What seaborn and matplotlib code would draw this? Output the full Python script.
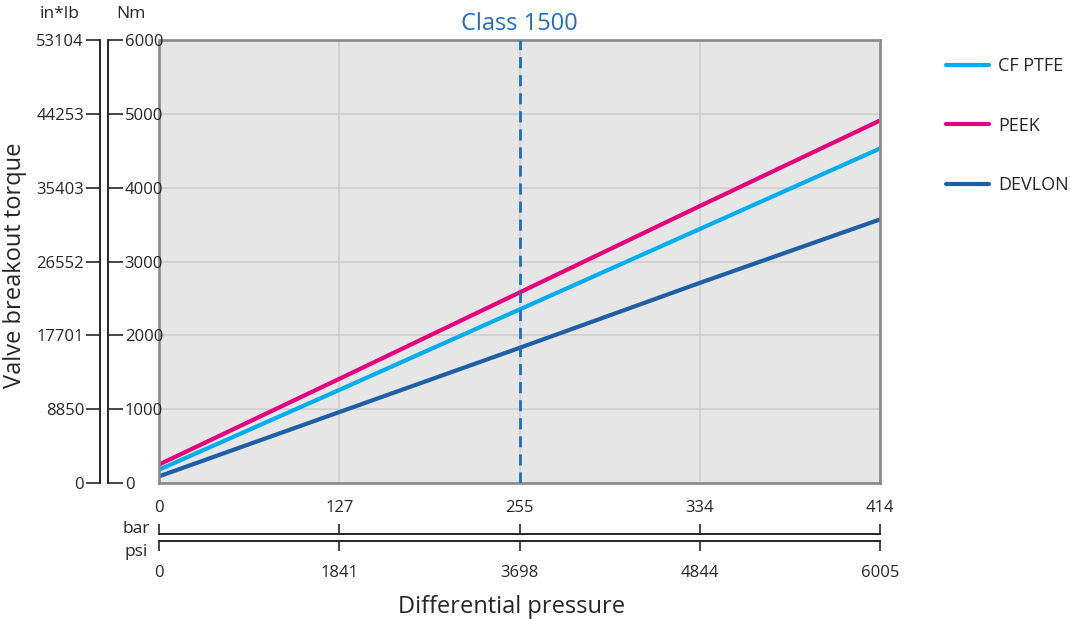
import pandas as pd
import matplotlib.pyplot as plt
import seaborn as sns

# pressure ticks (equally spaced on the chart)
bar_labels = ["0", "127", "255", "334", "414"]
psi_labels = ["0", "1841", "3698", "4844", "6005"]
tick_pos = [0, 1, 2, 3, 4]

# torque in Nm read at each pressure tick
cf_ptfe = [180, 1260, 2350, 3440, 4530]
peek = [250, 1410, 2580, 3750, 4910]
devlon = [90, 960, 1830, 2710, 3570]

nm_ticks = [0, 1000, 2000, 3000, 4000, 5000, 6000]
inlb_labels = ["0", "8850", "17701", "26552", "35403", "44253", "53104"]

materials = ["CF PTFE", "PEEK", "DEVLON"]
colors = ["#00AEEF", "#E6007E", "#1F5FA5"]
class_pos = 2  # Class 1500 -> 255 bar

df = pd.DataFrame({
    "pos": tick_pos * 3,
    "torque": cf_ptfe + peek + devlon,
    "material": [m for m in materials for _ in tick_pos],
})

sns.set_style("white")
plt.rcParams['font.family'] = ['Open Sans', 'DejaVu Sans']

W, H = 1070, 619
fig = plt.figure(figsize=(W / 100, H / 100), dpi=100)

def rect(x0, y0, x1, y1):
    return [x0 / W, 1 - y1 / H, (x1 - x0) / W, (y1 - y0) / H]

ax = fig.add_axes(rect(159, 40, 880, 483))
ax.set_facecolor("#E6E6E6")

sns.lineplot(data=df, x="pos", y="torque", hue="material", hue_order=materials,
             palette=colors, lw=3, ax=ax)

ax.axvline(class_pos, color="#1F6FC0", lw=2, ls=(0, (4, 2.5)), zorder=3)

ax.set_xlim(0, 4)
ax.set_ylim(0, 6000)
ax.set_xticks(tick_pos)
ax.set_xticklabels(bar_labels, fontsize=12)
ax.set_yticks(nm_ticks)
ax.tick_params(axis="x", length=0, pad=12)
ax.tick_params(axis="y", length=0, labelleft=False)
ax.grid(True, color="#CDCDCD", lw=1.1)
ax.set_axisbelow(True)
for s in ax.spines.values():
    s.set_color("#8A8A8A")
    s.set_linewidth(1.9)
ax.set_xlabel("")
ax.set_ylabel("")

handles, labels = ax.get_legend_handles_labels()
ax.get_legend().remove()
fig.legend(handles, labels, loc="upper left", bbox_to_anchor=(946 / W, 1 - 57 / H),
           frameon=False, fontsize=13, handlelength=2.4, handletextpad=0.5,
           labelspacing=2.3, borderpad=0, borderaxespad=0)

# torque unit axes on the left
ax_lb = fig.add_axes(rect(100, 40, 108, 483))
ax_nm = fig.add_axes(rect(100, 40, 108, 483))
for a in (ax_lb, ax_nm):
    a.set_ylim(0, 6000)
    a.set_xticks([])
    a.patch.set_visible(False)
    for s in a.spines.values():
        s.set_visible(False)
ax_lb.spines["left"].set_visible(True)
ax_lb.spines["left"].set_linewidth(1.4)
ax_lb.set_yticks(nm_ticks)
ax_lb.set_yticklabels(inlb_labels)
ax_lb.tick_params(axis="y", left=True, right=False, labelleft=True, labelright=False,
                  direction="out", length=10, width=1.2, pad=1.5, labelsize=12)

ax_nm.spines["right"].set_visible(True)
ax_nm.spines["right"].set_linewidth(1.4)
ax_nm.yaxis.tick_right()
ax_nm.set_yticks(nm_ticks)
ax_nm.set_yticklabels([str(v) for v in nm_ticks])
ax_nm.tick_params(axis="y", direction="out", length=10.5, width=1.2, pad=1.5, labelsize=12)

# pressure unit axes below
ax_p = fig.add_axes(rect(159, 534, 880, 541))
ax_p.set_xlim(0, 4)
ax_p.set_yticks([])
ax_p.patch.set_visible(False)
for side in ("left", "right"):
    ax_p.spines[side].set_visible(False)
for side in ("top", "bottom"):
    ax_p.spines[side].set_linewidth(1.4)
ax_p.set_xticks(tick_pos)
ax_p.set_xticklabels(psi_labels)
ax_p.tick_params(axis="x", top=True, bottom=True, labeltop=False, direction="out",
                 length=7.5, width=1.2, pad=10, labelsize=12)

fig.text(150 / W, 1 - 529 / H, "bar", ha="right", va="center", fontsize=12.5)
fig.text(148 / W, 1 - 552 / H, "psi", ha="right", va="center", fontsize=12.5)
fig.text(60 / W, 1 - 14 / H, "in*lb", ha="center", va="center", fontsize=12.5)
fig.text(131 / W, 1 - 14 / H, "Nm", ha="center", va="center", fontsize=12.5)
fig.text(519 / W, 1 - 24 / H, "Class 1500", ha="center", va="center",
         fontsize=17, color="#1F6FC0")
fig.text(15 / W, 1 - 265 / H, "Valve breakout torque", ha="center", va="center",
         rotation=90, fontsize=17)
fig.text(512 / W, 1 - 607 / H, "Differential pressure", ha="center", va="center",
         fontsize=17)

fig.savefig("out.png", dpi=100)
